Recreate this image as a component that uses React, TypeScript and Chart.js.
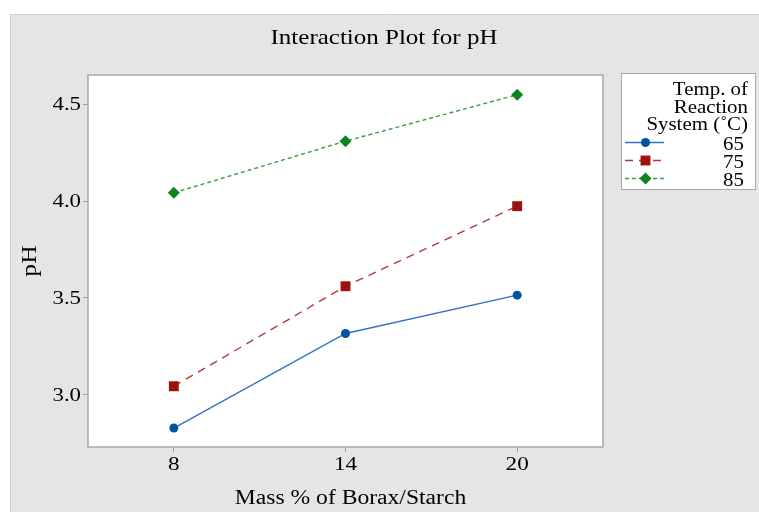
import React, { useEffect, useRef } from 'react';
import { Chart, registerables } from 'chart.js';

Chart.register(...registerables);

const chartTitle = 'Interaction Plot for pH';
const xAxisTitle = 'Mass % of Borax/Starch';
const yAxisTitle = 'pH';
const massLevels = [8, 14, 20];
const xTickValues = [8, 14, 20];
const yTickValues = [3.0, 3.5, 4.0, 4.5];
const legendTitle = ['Temp. of', 'Reaction', 'System (˚C)'];
const tempLabels = ['65', '75', '85'];
const ph65 = [2.827, 3.316, 3.514];
const ph75 = [3.043, 3.56, 3.974];
const ph85 = [4.043, 4.31, 4.55];

const FONT = '"Liberation Serif", "Times New Roman", serif';
const seriesColors = ['#0054a6', '#9e1111', '#0a861f'];
const lineColors = ['#3272c2', '#b23a3a', '#36a043'];
const seriesDash = [[], [8, 6], [4, 3]];
const seriesPoint = ['circle', 'rect', 'rectRot'];
const seriesRadius = [4.5, 7, 6];

function drawText(
  ctx: CanvasRenderingContext2D,
  text: string,
  x: number,
  y: number,
  size: number,
  align: CanvasTextAlign,
  baseline: CanvasTextBaseline,
  sx: number,
  rot = 0,
) {
  ctx.save();
  ctx.translate(x, y);
  if (rot) ctx.rotate(rot);
  ctx.scale(sx, 1);
  ctx.font = `${size}px ${FONT}`;
  ctx.textAlign = align;
  ctx.textBaseline = baseline;
  ctx.fillStyle = '#000';
  ctx.fillText(text, 0, 0);
  ctx.restore();
}

function drawMarker(ctx: CanvasRenderingContext2D, style: string, x: number, y: number, r: number, color: string) {
  ctx.save();
  ctx.fillStyle = color;
  ctx.beginPath();
  if (style === 'circle') {
    ctx.arc(x, y, r, 0, Math.PI * 2);
  } else if (style === 'rect') {
    const s = r * Math.SQRT1_2;
    ctx.rect(x - s, y - s, 2 * s, 2 * s);
  } else {
    ctx.moveTo(x, y - r);
    ctx.lineTo(x + r, y);
    ctx.lineTo(x, y + r);
    ctx.lineTo(x - r, y);
    ctx.closePath();
  }
  ctx.fill();
  ctx.restore();
}

const framePlugin = {
  id: 'frame',
  beforeDraw(chart: any) {
    const { ctx, width, height, chartArea: a } = chart;
    ctx.save();
    ctx.fillStyle = '#ffffff';
    ctx.fillRect(0, 0, width, height);
    ctx.fillStyle = '#e5e5e5';
    ctx.fillRect(10, 14, width - 10, height - 14);
    ctx.strokeStyle = '#d0d0d0';
    ctx.lineWidth = 1;
    ctx.beginPath();
    ctx.moveTo(10.5, height);
    ctx.lineTo(10.5, 14.5);
    ctx.lineTo(width, 14.5);
    ctx.stroke();
    ctx.fillStyle = '#ffffff';
    ctx.fillRect(a.left, a.top, a.right - a.left, a.bottom - a.top);
    ctx.restore();
    drawText(ctx, chartTitle, 384, 38, 21, 'center', 'middle', 1.19);
  },
  beforeDatasetsDraw(chart: any) {
    const { ctx, chartArea: a, scales } = chart;
    ctx.save();
    ctx.strokeStyle = '#a8a8a8';
    ctx.lineWidth = 1.5;
    ctx.strokeRect(a.left, a.top, a.right - a.left, a.bottom - a.top);
    ctx.restore();
    scales.y.ticks.forEach((t: any) => {
      drawText(ctx, Number(t.value).toFixed(1), a.left - 7, scales.y.getPixelForValue(t.value) + 1, 19, 'right', 'middle', 1.2);
    });
    scales.x.ticks.forEach((t: any) => {
      drawText(ctx, String(t.value), scales.x.getPixelForValue(t.value), a.bottom + 18.5, 19, 'center', 'middle', 1.22);
    });
    drawText(ctx, xAxisTitle, (a.left + a.right) / 2 + 5, 498.5, 20, 'center', 'middle', 1.18);
    drawText(ctx, yAxisTitle, 31, (a.top + a.bottom) / 2, 20, 'center', 'middle', 1.28, -Math.PI / 2);
  },
  afterDraw(chart: any) {
    const { ctx } = chart;
    const bx = 621, by = 73, bw = 134, bh = 116;
    ctx.save();
    ctx.fillStyle = '#ffffff';
    ctx.fillRect(bx, by, bw, bh);
    ctx.strokeStyle = '#a8a8a8';
    ctx.lineWidth = 1;
    ctx.strokeRect(bx + 0.5, by + 0.5, bw, bh);
    ctx.restore();
    legendTitle.forEach((t, i) => drawText(ctx, t, 748, 95 + i * 17.5, 19, 'right', 'alphabetic', 1.1));
    chart.data.datasets.forEach((ds: any, i: number) => {
      const yy = 142.5 + i * 18;
      drawText(ctx, ds.label, 744, yy + 7, 19, 'right', 'alphabetic', 1.1);
      ctx.save();
      ctx.strokeStyle = ds.borderColor;
      ctx.lineWidth = 1.5;
      ctx.setLineDash(ds.borderDash);
      ctx.beginPath();
      ctx.moveTo(625, yy);
      ctx.lineTo(664, yy);
      ctx.stroke();
      ctx.restore();
      drawMarker(ctx, ds.pointStyle, 645.5, yy, ds.pointRadius, ds.pointBackgroundColor);
    });
  },
};

export default function App() {
  const ref = useRef<HTMLCanvasElement>(null);
  useEffect(() => {
    if (!ref.current) return;
    const series = [ph65, ph75, ph85];
    const chart = new Chart(ref.current, {
      type: 'line',
      data: {
        datasets: series.map((vals, i) => ({
          label: tempLabels[i],
          data: massLevels.map((m, j) => ({ x: m, y: vals[j] })),
          borderColor: lineColors[i],
          borderWidth: 1.4,
          borderDash: seriesDash[i],
          pointStyle: seriesPoint[i],
          pointRadius: seriesRadius[i],
          pointBackgroundColor: seriesColors[i],
          pointBorderColor: seriesColors[i],
          pointBorderWidth: 0,
          tension: 0,
          fill: false,
        })),
      },
      options: {
        responsive: false,
        animation: false,
        devicePixelRatio: 1,
        events: [],
        layout: { padding: { left: 0, top: 75, right: 156, bottom: 0 } },
        plugins: { legend: { display: false }, tooltip: { enabled: false }, title: { display: false } },
        scales: {
          x: {
            type: 'linear',
            min: 5,
            max: 23,
            afterBuildTicks: (s: any) => { s.ticks = xTickValues.map((v) => ({ value: v })); },
            afterFit: (s: any) => { s.height = 65; },
            grid: { drawOnChartArea: false, drawTicks: true, tickLength: 5, color: '#a0a0a0' },
            border: { display: false },
            ticks: { display: false },
            title: { display: false, text: xAxisTitle },
          },
          y: {
            type: 'linear',
            min: 2.729,
            max: 4.652,
            afterBuildTicks: (s: any) => { s.ticks = yTickValues.map((v) => ({ value: v })); },
            afterFit: (s: any) => { s.width = 88; },
            grid: { drawOnChartArea: false, drawTicks: true, tickLength: 5, color: '#a0a0a0' },
            border: { display: false },
            ticks: { display: false },
            title: { display: false, text: yAxisTitle },
          },
        },
      },
      plugins: [framePlugin],
    } as any);
    return () => chart.destroy();
  }, []);
  return (
    <div style={{ position: 'absolute', left: 0, top: 0, width: 759, height: 512 }}>
      <canvas ref={ref} width={759} height={512} style={{ display: 'block' }} />
    </div>
  );
}
